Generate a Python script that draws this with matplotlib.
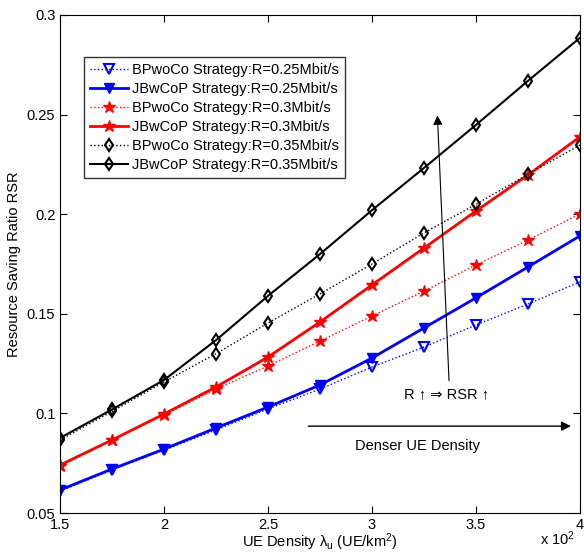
import matplotlib
matplotlib.use("Agg")
import matplotlib.pyplot as plt

plt.rcParams['font.family'] = ['Liberation Sans', 'DejaVu Sans']
plt.rcParams['mathtext.fontset'] = 'custom'
plt.rcParams['mathtext.rm'] = 'Liberation Sans'
plt.rcParams['mathtext.it'] = 'Liberation Sans'

x = [1.5, 1.75, 2.0, 2.25, 2.5, 2.75, 3.0, 3.25, 3.5, 3.75, 4.0]

bp_025 = [0.061, 0.0716, 0.0816, 0.0917, 0.1022, 0.1122, 0.1233, 0.1333, 0.1444, 0.1549, 0.166]
jb_025 = [0.0616, 0.0721, 0.0821, 0.0927, 0.1032, 0.1143, 0.1278, 0.1429, 0.158, 0.1735, 0.1891]
bp_030 = [0.0736, 0.0867, 0.0992, 0.1122, 0.1238, 0.1363, 0.1489, 0.1614, 0.1745, 0.187, 0.2001]
jb_030 = [0.0741, 0.0867, 0.0997, 0.1133, 0.1283, 0.1459, 0.1645, 0.183, 0.2016, 0.2197, 0.2388]
bp_035 = [0.0867, 0.101, 0.1158, 0.130, 0.1454, 0.160, 0.175, 0.1906, 0.205, 0.220, 0.2347]
jb_035 = [0.0877, 0.102, 0.1168, 0.1368, 0.159, 0.180, 0.202, 0.2232, 0.2448, 0.2669, 0.2885]

labels = ['BPwoCo Strategy:R=0.25Mbit/s', 'JBwCoP Strategy:R=0.25Mbit/s',
          'BPwoCo Strategy:R=0.3Mbit/s', 'JBwCoP Strategy:R=0.3Mbit/s',
          'BPwoCo Strategy:R=0.35Mbit/s', 'JBwCoP Strategy:R=0.35Mbit/s']

fig = plt.figure(figsize=(5.84, 5.54), dpi=100)
ax = fig.add_axes([0.103, 0.074, 0.890, 0.899])

ax.plot(x, bp_025, ':', color='blue', marker='v', mfc='none', mew=1.5, ms=7, lw=1, label=labels[0])
ax.plot(x, jb_025, '-', color='blue', marker='v', mfc='blue', ms=7, lw=2, label=labels[1])
ax.plot(x, bp_030, ':', color='red', marker='*', mfc='red', ms=9, lw=1, label=labels[2])
ax.plot(x, jb_030, '-', color='red', marker='*', mfc='red', ms=9, lw=2, label=labels[3])
ax.plot(x, bp_035, ':', color='black', marker='d', mfc='none', mew=1.5, ms=6, lw=1, label=labels[4])
ax.plot(x, jb_035, '-', color='black', marker='d', mfc='none', mew=1.5, ms=6, lw=1.5, label=labels[5])

ax.set_xlim(1.5, 4.0)
ax.set_ylim(0.05, 0.3)
ax.set_xticks([1.5, 2, 2.5, 3, 3.5, 4])
ax.set_xticklabels(['1.5', '2', '2.5', '3', '3.5', '4'])
ax.set_yticks([0.05, 0.1, 0.15, 0.2, 0.25, 0.3])
ax.set_yticklabels(['0.05', '0.1', '0.15', '0.2', '0.25', '0.3'])
ax.tick_params(direction='in', top=True, right=True, labelsize=10.5, length=5)

ax.set_xlabel(r'UE Density $\lambda_u$ (UE/km$^2$)', fontsize=10.5, labelpad=0)
ax.set_ylabel('Resource Saving Ratio RSR', fontsize=10.5, labelpad=4)
fig.text(0.925, 0.016, r'x 10$^2$', fontsize=10.5)

leg = ax.legend(loc='upper left', bbox_to_anchor=(0.032, 0.93), fontsize=10.5,
                frameon=True, fancybox=False, edgecolor='black', borderpad=0.4,
                labelspacing=0.35, handlelength=2.6, handletextpad=0.3)
leg.get_frame().set_linewidth(1.0)

ax.annotate('', xy=(3.314, 0.251), xytext=(3.371, 0.115),
            arrowprops=dict(arrowstyle='-|>', color='black', lw=0.8, mutation_scale=14))
ax.text(3.357, 0.1096, 'R ↑ ⇒ RSR ↑', ha='center', va='center', fontsize=10.5,
        family=['Liberation Sans', 'DejaVu Sans'])
ax.annotate('', xy=(3.97, 0.0936), xytext=(2.68, 0.0936),
            arrowprops=dict(arrowstyle='-|>', color='black', lw=1.0, mutation_scale=14))
ax.text(3.22, 0.0836, 'Denser UE Density', ha='center', va='center', fontsize=10.5)

fig.savefig('out.png', dpi=100)
